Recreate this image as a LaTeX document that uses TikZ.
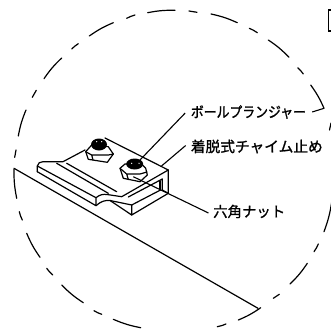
\documentclass[tikz,border=0pt]{standalone}
\usepackage{fontspec}
\usepackage{tikz}
\usetikzlibrary{calc}
\usetikzlibrary{positioning}
\newfontfamily\jpfont[FakeBold=1.2]{Noto Sans CJK JP}
\tikzset{
	part/.style={line width=1.2pt, line join=round, line cap=round},
	rim/.style={line width=1.2pt, line cap=round},
	leader/.style={line width=1.1pt},
	nutface/.style={line width=1.2pt, line join=round, fill=white},
	callout/.style={anchor=west, inner sep=0pt, font=\jpfont}
}
\begin{document}
\begin{tikzpicture}[x=1pt,y=-1pt]
		\useasboundingbox (0,0) rectangle (331,329);
		\foreach \ax/\ay/\bx/\by in {14/169.3/16.7/198.3, 19.3/211.7/22.3/220, 26.7/233.3/40/257.3, 46.7/268.3/52.7/275, 61.7/285/83.3/302.7, 94/310.7/101.7/314.3, 113.3/319.3/140.7/327.7, 217.3/326.7/226/324, 238.3/320/260.7/307.7, 273.3/298.3/279.3/294.3, 290/284/307.3/263.3, 314/251.7/318.3/244, 324/231.7/332/200, 329.5/130/331/123, 324/108.3/310.7/85, 303.3/74/297.7/67.7, 289/57.3/268.3/40, 257.3/32.7/249.3/28.3, 237.3/22.7/211/14, 197/12.3/189/11, 175/10.3/147.7/12.7, 135/15/126.7/18.3, 113.3/22.7/89.3/36, 78.3/43.7/71.7/49, 61.7/58/44/78.7, 36.3/90.3/32.3/97.3, 26/110/18.3/136, 16/150/14.7/157.3}
			\draw[rim] (\ax,\ay) to[bend right=6] (\bx,\by);
		\draw[rim] (331,10) -- (328.5,10) -- (328.5,31) -- (331,31);
		\draw[part] (14,168.3) -- (258,308.3);
		\draw[part] (37.3,171.7) -- (37.3,166) .. controls (38,163) and (40,161.7) .. (43,161.7) -- (63,161.7) -- (85,150);
		\draw[part] (105,138) -- (168.3,170) -- (168.3,193.3) -- (131.7,215) -- (131.7,205) -- (160.5,190);
		\draw[part] (37.3,166) -- (96,197.7) -- (96,205.7) -- (37.3,171.7);
		\draw[part] (96,197.7) .. controls (100,194.5) and (103,194) .. (107,194.5) -- (121.7,196.7) -- (168.3,170);
		\draw[part] (96,205.7) .. controls (101,201) and (106,200) .. (110,200.5) -- (131.7,215);
		\draw[part] (110,200.5) -- (131.7,205);
		\draw[part] (128.3,197) -- (162.3,179) -- (162.3,190) -- (168.3,193.3);
		\draw[part] (160,181) -- (160,190);
		\draw[part] (56.7,163.3) -- (108.3,193.3);
		\draw[part] (66.7,163.3) -- (116.7,191.7);
		\draw[nutface] (85.7,151.7) -- (88.3,159.3) -- (107.3,162.3) -- (113.3,154) -- (108.3,146.7) -- (91.7,145) -- cycle;
		\draw[part] (85.7,151.7) -- (91.7,155) -- (108.3,155) -- (113.3,154) (91.7,155) -- (93,160);
		\fill (99,144.5) ellipse (8 and 6);
		\fill[white] (96.7,141.7) circle (.7) (101.7,141.7) circle (.7);
		\draw[nutface] (120,168.3) -- (123.3,178.3) -- (140,181.7) -- (147.3,175) -- (145.7,168.3) -- (141.7,164) -- (125,164) -- cycle;
		\draw[part] (120,168.3) -- (126.7,174) -- (140,174) -- (147,172) (126.7,174) -- (128.3,179.5);
		\fill (134.7,164) ellipse (8.5 and 5.5);
		\fill[white] (131.7,163.3) circle (.7) (139,163.3) circle (.7);
		\node[callout, xscale=.875, font=\jpfont\fontsize{14.7}{15}\selectfont] (plunger) at (190.7,112) {ボールプランジャー};
		\node[callout, font=\jpfont\fontsize{14.7}{15}\selectfont] (chimestop) at (190.7,146.5) {着脱式チャイム止め};
		\node[callout, font=\jpfont\fontsize{14.4}{15}\selectfont] (hexnut) at (213,211.5) {六角ナット};
		\coordinate (plungerend) at (140,160);
		\coordinate (plungertick) at (324,108.3);
		\coordinate (chimeend) at (160.7,166.7);
		\coordinate (nutend) at (133.3,176.7);
		\draw[leader] (plunger.west) ++(-5.5,1) -- (plungerend);
		\draw[leader] (plunger.east) ++(6,0) -- (plungertick);
		\draw[leader] (chimestop.west) ++(-5,-1) -- (chimeend);
		\draw[leader] (hexnut.west) ++(-4.5,1.5) -- (nutend);
	\end{tikzpicture}
\end{document}
